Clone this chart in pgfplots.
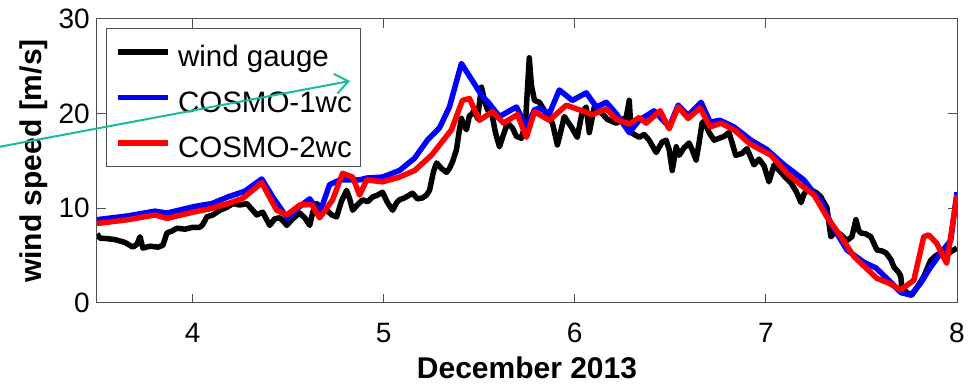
\documentclass[border=0pt]{standalone}
\usepackage{fontspec}
\setmainfont{Liberation Sans}
\usepackage{pgfplots}
\pgfplotsset{compat=1.18}
\usetikzlibrary{arrows.meta}
\definecolor{teal2}{RGB}{26,188,156}
\definecolor{axgray}{RGB}{80,80,80}
\begin{document}
\begin{tikzpicture}
\useasboundingbox (-97pt,-82pt) rectangle (875pt,303pt);
\begin{axis}[
  at={(0pt,0pt)}, anchor=south west,
  scale only axis, width=860pt, height=284pt,
  xmin=3.5, xmax=8, ymin=0, ymax=30,
  xtick={4,5,6,7,8}, ytick={0,10,20,30},
  tick align=inside, major tick length=9pt,
  axis line style={axgray, line width=1pt},
  every tick/.style={axgray, line width=1pt},
  /pgf/number format/assume math mode=true,
  tick label style={font=\fontsize{28}{33}\selectfont, inner sep=0pt},
  xticklabel style={yshift=-20pt},
  yticklabel style={xshift=-7pt},
  xlabel={December 2013},
  ylabel={wind speed [m/s]},
  label style={font=\fontsize{30}{36}\selectfont\bfseries},
  xlabel style={at={(axis description cs:0.5,-0.267)}, anchor=base},
  ylabel style={at={(axis description cs:-0.073,0.5)}, anchor=center},
  legend style={at={(axis description cs:0.0105,0.968)}, anchor=north west,
    draw=axgray, line width=1pt, font=\fontsize{29.5}{35}\selectfont,
    inner xsep=9pt, inner ysep=9pt, row sep=16.5pt, column sep=7pt,
    nodes={inner sep=0pt, text height=29pt, text depth=0pt},
    column 2/.style={nodes={text width=184pt, align=left}}},
  legend cell align=left,
  legend image code/.code={\draw[#1] (0pt,0pt) -- (50pt,0pt);},
]
\addplot[black, line width=5.5pt, line join=round] coordinates {
(3.500,7.3)(3.516,6.85)(3.552,6.8)(3.594,6.7)(3.646,6.4)(3.688,5.9)(3.709,6.2)(3.725,7.0)(3.740,5.8)(3.777,6.0)
(3.819,5.9)(3.845,6.1)(3.866,7.4)(3.892,7.6)(3.918,7.9)(3.960,7.8)(4.002,8.0)(4.038,8.0)(4.054,8.3)(4.075,9.1)
(4.106,9.3)(4.143,9.8)(4.179,10.1)(4.211,10.5)(4.247,10.35)(4.284,10.5)(4.315,9.8)(4.336,9.3)(4.367,9.6)(4.404,8.2)
(4.430,8.9)(4.456,9.0)(4.477,8.6)(4.493,8.2)(4.524,8.9)(4.561,9.5)(4.587,9.0)(4.613,8.2)(4.629,9.6)(4.650,10.5)
(4.676,10.0)(4.702,9.8)(4.728,9.3)(4.754,9.1)(4.780,10.8)(4.806,11.9)(4.822,11.0)(4.838,9.8)(4.864,10.4)(4.890,10.9)
(4.916,10.7)(4.942,11.2)(4.968,11.4)(4.994,11.7)(5.020,10.6)(5.047,9.8)(5.068,10.6)(5.083,10.9)(5.109,11.1)(5.151,11.6)
(5.177,11.0)(5.203,11.1)(5.224,11.4)(5.240,11.9)(5.261,13.9)(5.277,14.8)(5.303,14.2)(5.329,13.8)(5.344,14.2)(5.360,14.9)
(5.381,16.2)(5.397,18.4)(5.407,19.5)(5.418,18.8)(5.433,18.3)(5.449,19.8)(5.459,19.9)(5.475,20.4)(5.491,19.5)(5.512,22.8)
(5.527,21.4)(5.543,20.4)(5.564,20.2)(5.585,18.0)(5.606,16.5)(5.627,17.8)(5.648,19.0)(5.674,18.5)(5.695,17.6)(5.721,17.4)
(5.742,19.0)(5.752,22.5)(5.762,25.9)(5.773,23.0)(5.789,21.4)(5.815,21.2)(5.851,20.0)(5.883,19.0)(5.909,16.7)(5.930,18.4)
(5.945,19.7)(5.982,18.6)(6.013,17.5)(6.039,20.2)(6.060,20.7)(6.076,18.0)(6.102,20.7)(6.113,20.4)(6.144,20.0)(6.170,19.4)
(6.217,19.0)(6.243,19.3)(6.269,19.6)(6.285,21.4)(6.295,18.0)(6.337,17.5)(6.363,17.8)(6.389,17.2)(6.426,15.9)(6.457,17.0)
(6.478,17.2)(6.494,16.2)(6.510,14.0)(6.531,16.5)(6.546,15.6)(6.572,16.4)(6.598,16.9)(6.614,16.2)(6.635,15.1)(6.651,17.0)
(6.666,19.0)(6.677,19.2)(6.703,18.0)(6.729,17.2)(6.755,17.4)(6.781,17.6)(6.807,18.0)(6.828,16.6)(6.842,15.6)(6.875,15.8)
(6.901,16.3)(6.938,14.6)(6.964,15.2)(6.990,14.5)(7.016,12.8)(7.043,14.6)(7.079,13.8)(7.105,13.2)(7.131,12.7)(7.158,11.8)
(7.184,10.6)(7.199,11.5)(7.215,11.9)(7.241,11.9)(7.267,11.6)(7.288,11.2)(7.304,10.6)(7.319,10.1)(7.340,7.0)(7.367,7.6)
(7.393,7.2)(7.424,6.6)(7.450,7.0)(7.471,8.8)(7.487,7.6)(7.497,7.4)(7.523,7.3)(7.549,7.0)(7.581,5.6)(7.607,5.5)
(7.628,5.3)(7.654,4.6)(7.670,3.8)(7.696,3.2)(7.706,2.8)(7.711,1.7)(7.737,1.1)(7.763,0.84)(7.790,1.6)(7.826,2.8)
(7.862,4.5)(7.889,5.0)(7.915,5.3)(7.941,5.0)(7.967,5.4)(8.000,5.8)
};
\addlegendentry{wind gauge}
\addplot[blue, line width=5.5pt, line join=round] coordinates {
(3.500,8.8)(3.662,9.2)(3.803,9.7)(3.866,9.5)(4.012,10.2)(4.101,10.5)(4.184,11.2)(4.273,11.8)(4.362,13.1)(4.420,11.2)
(4.498,8.9)(4.561,10.2)(4.613,11.0)(4.665,9.5)(4.717,12.5)(4.770,13.0)(4.874,13.0)(4.911,13.2)(4.994,13.3)(5.083,14.0)
(5.162,15.3)(5.229,17.2)(5.292,18.5)(5.344,20.7)(5.407,25.3)(5.517,21.8)(5.543,21.3)(5.606,19.7)(5.668,20.4)(5.695,20.7)
(5.747,18.6)(5.789,20.4)(5.815,20.6)(5.867,20.0)(5.919,22.5)(5.987,21.4)(6.060,22.2)(6.113,20.7)(6.165,21.2)(6.217,20.0)
(6.285,18.0)(6.337,19.3)(6.415,20.3)(6.494,18.6)(6.541,20.9)(6.593,19.8)(6.661,21.2)(6.708,19.1)(6.760,19.3)(6.833,18.6)
(6.922,17.2)(7.006,16.2)(7.095,14.6)(7.199,13.0)(7.252,11.6)(7.288,10.9)(7.340,8.4)(7.424,5.6)(7.513,4.3)(7.576,3.7)
(7.643,2.4)(7.706,1.1)(7.758,0.84)(7.810,2.1)(7.862,3.8)(7.920,5.4)(7.967,6.6)(8.000,11.7)
};
\addlegendentry{COSMO-1wc}
\addplot[red, line width=5.5pt, line join=round] coordinates {
(3.500,8.4)(3.662,8.8)(3.803,9.3)(3.866,8.94)(4.012,9.64)(4.101,10.0)(4.184,10.5)(4.263,11.05)(4.362,12.7)(4.440,9.8)
(4.493,9.3)(4.561,10.35)(4.624,10.4)(4.665,9.0)(4.733,10.9)(4.785,13.7)(4.838,13.3)(4.874,11.4)(4.911,13.0)(4.994,12.8)
(5.083,13.3)(5.162,14.0)(5.250,15.6)(5.355,18.3)(5.412,21.4)(5.449,21.6)(5.501,19.3)(5.569,20.2)(5.627,19.0)(5.700,19.9)
(5.747,17.5)(5.789,20.2)(5.867,19.3)(5.956,20.9)(6.024,20.4)(6.092,19.9)(6.165,20.5)(6.217,19.4)(6.285,18.9)(6.337,19.6)
(6.373,19.0)(6.447,20.3)(6.494,18.4)(6.541,20.7)(6.593,19.5)(6.656,20.6)(6.708,18.6)(6.766,19.0)(6.839,18.2)(6.917,16.8)
(7.027,15.6)(7.110,13.7)(7.199,12.2)(7.252,11.4)(7.319,9.1)(7.393,7.0)(7.461,4.9)(7.581,2.6)(7.643,2.1)(7.706,1.4)
(7.774,2.4)(7.826,7.0)(7.852,7.2)(7.894,6.3)(7.946,4.2)(8.000,11.4)
};
\addlegendentry{COSMO-2wc}
\end{axis}
\draw[teal2, line width=2pt, -{Straight Barb[length=13pt,width=20pt]}] (-97pt,156.3pt) -- (253pt,222pt);
\end{tikzpicture}
\end{document}
